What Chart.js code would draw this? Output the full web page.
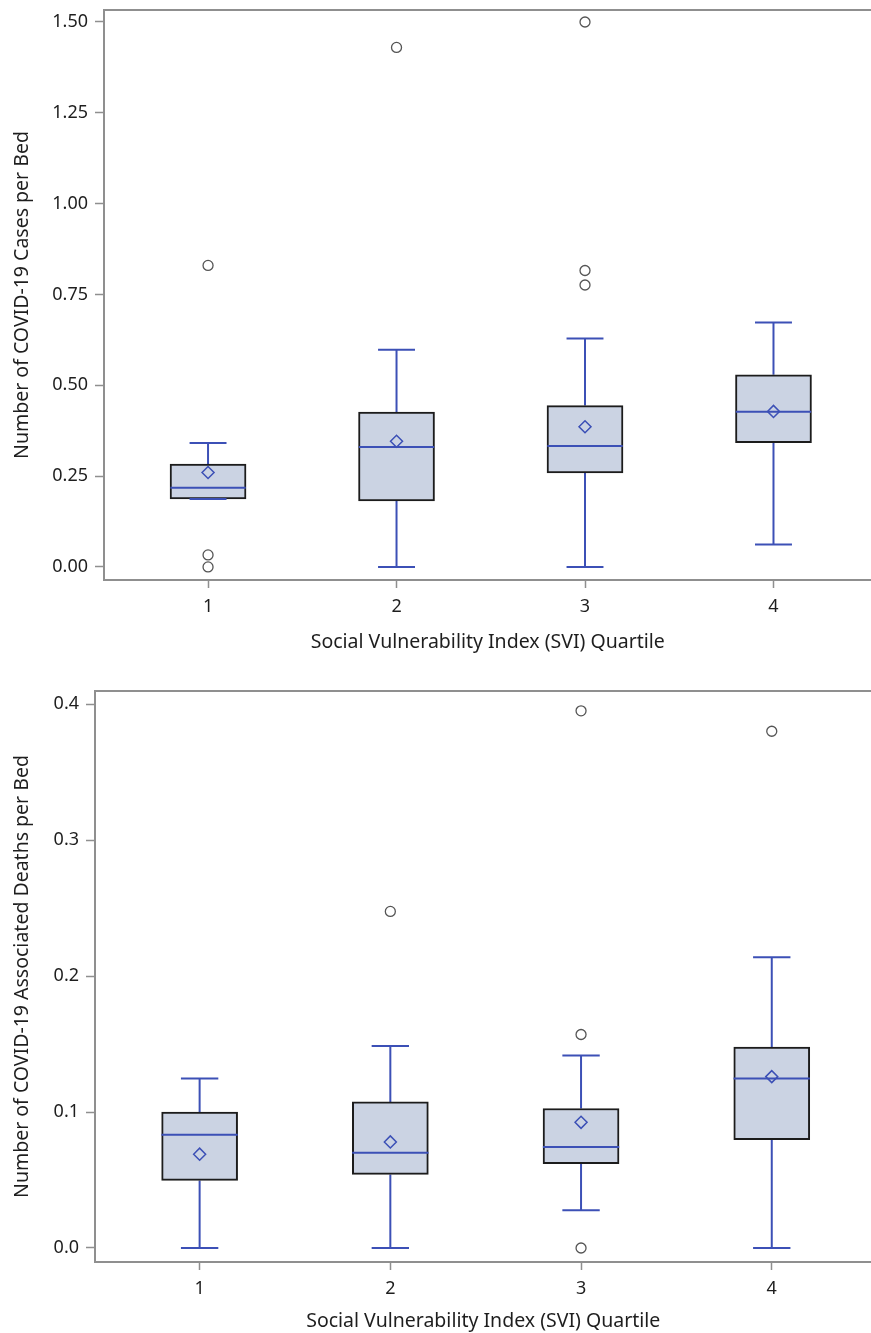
<!DOCTYPE html>
<html>
<head>
<meta charset="utf-8">
<script src="https://cdn.jsdelivr.net/npm/chart.js@4.4.1/dist/chart.umd.min.js"></script>
<style>
  html, body { margin: 0; padding: 0; background: #ffffff; }
  #wrap { position: relative; width: 871px; height: 1333px; overflow: hidden; }
  canvas { position: absolute; left: 0; display: block; }
  #c1 { top: 0; }
  #c2 { top: 665px; }
</style>
</head>
<body>
<div id="wrap">
  <canvas id="c1" width="879" height="665"></canvas>
  <canvas id="c2" width="879" height="668"></canvas>
</div>
<script>
// ---------- data ----------
const categories = [1, 2, 3, 4];
const categoryLabels = ['1', '2', '3', '4'];
const xTitle = 'Social Vulnerability Index (SVI) Quartile';

// Panel A: COVID-19 cases per bed
const casesTitle = 'Number of COVID-19 Cases per Bed';
const casesQ1 = [0.187, 0.182, 0.259, 0.342];
const casesMedian = [0.218, 0.330, 0.333, 0.427];
const casesQ3 = [0.283, 0.426, 0.444, 0.529];
const casesMean = [0.260, 0.346, 0.386, 0.428];
const casesWhiskerLow = [0.187, 0.000, 0.000, 0.062];
const casesWhiskerHigh = [0.341, 0.598, 0.629, 0.673];
const casesOutliers = [[0.830, 0.033, 0.000], [1.430], [1.500, 0.816, 0.776], []];
const casesTickValues = [0, 0.25, 0.5, 0.75, 1.0, 1.25, 1.5];
const casesTickLabels = ['0.00', '0.25', '0.50', '0.75', '1.00', '1.25', '1.50'];

// Panel B: COVID-19 associated deaths per bed
const deathsTitle = 'Number of COVID-19 Associated Deaths per Bed';
const deathsQ1 = [0.0497, 0.0541, 0.0620, 0.0796];
const deathsMedian = [0.0833, 0.0700, 0.0743, 0.1247];
const deathsQ3 = [0.1000, 0.1074, 0.1026, 0.1477];
const deathsMean = [0.0690, 0.0780, 0.0924, 0.1260];
const deathsWhiskerLow = [0.000, 0.000, 0.0277, 0.000];
const deathsWhiskerHigh = [0.1247, 0.1485, 0.1415, 0.2138];
const deathsOutliers = [[], [0.2475], [0.395, 0.157, 0.000], [0.380]];
const deathsTickValues = [0.0, 0.1, 0.2, 0.3, 0.4];
const deathsTickLabels = ['0.0', '0.1', '0.2', '0.3', '0.4'];

// ---------- styling ----------
const FONT = "'Noto Sans', 'Open Sans', sans-serif";
const BLUE = '#3c50b6';
const BOX_FILL = '#cbd3e3';
const BOX_EDGE = '#1c1c1c';
const AXIS_GREY = '#8f8f8f';
const TEXT = '#1e1e1e';
const BOX_HALF = 0.2;    // half box width, in category units
const CAP_HALF = 0.098;  // half whisker-cap width, in category units

Chart.defaults.font.family = FONT;
Chart.defaults.color = TEXT;

const frameTop = {
  id: 'frameTop',
  afterDraw(chart) {
    const a = chart.chartArea, ctx = chart.ctx;
    ctx.save();
    ctx.strokeStyle = AXIS_GREY;
    ctx.lineWidth = 2;
    ctx.beginPath();
    ctx.moveTo(a.left - 1, a.top);
    ctx.lineTo(a.right + 2, a.top);
    ctx.stroke();
    ctx.restore();
  }
};

function buildChart(canvasId, p) {
  const boxData = categories.map((c, i) => ({ x: c, y: [p.q1[i], p.q3[i]] }));
  const meanData = categories.map((c, i) => ({ x: c, y: p.mean[i] }));
  const medData = [];
  const capData = [];
  const whiskData = [];
  categories.forEach((c, i) => {
    medData.push({ x: c - BOX_HALF, y: p.med[i] }, { x: c + BOX_HALF, y: p.med[i] }, { x: c, y: null });
    [p.lo[i], p.hi[i]].forEach(v => {
      capData.push({ x: c - CAP_HALF, y: v }, { x: c + CAP_HALF, y: v }, { x: c, y: null });
    });
    whiskData.push({ x: c, y: p.lo[i] }, { x: c, y: p.q1[i] }, { x: c, y: null });
    whiskData.push({ x: c, y: p.q3[i] }, { x: c, y: p.hi[i] }, { x: c, y: null });
  });
  const outData = [];
  categories.forEach((c, i) => p.out[i].forEach(v => outData.push({ x: c, y: v })));

  const seg = { pointRadius: 0, borderColor: BLUE, borderWidth: 2, spanGaps: false, fill: false, tension: 0, borderCapStyle: 'butt' };

  return new Chart(document.getElementById(canvasId), {
    data: {
      datasets: [
        { type: 'scatter', data: meanData, order: 0, pointStyle: 'rectRot', pointRadius: 6,
          borderColor: BLUE, backgroundColor: 'rgba(0,0,0,0)', borderWidth: 1.5 },
        { type: 'scatter', data: outData, order: 1, pointStyle: 'circle', pointRadius: 5,
          borderColor: '#555555', backgroundColor: 'rgba(255,255,255,0)', borderWidth: 1.3 },
        Object.assign({ type: 'line', data: medData, order: 2 }, seg),
        Object.assign({ type: 'line', data: capData, order: 3 }, seg),
        { type: 'bar', data: boxData, order: 4, barThickness: 76, backgroundColor: BOX_FILL,
          borderColor: BOX_EDGE, borderWidth: 2, borderSkipped: false },
        Object.assign({ type: 'line', data: whiskData, order: 5 }, seg)
      ]
    },
    options: {
      responsive: false,
      animation: false,
      events: [],
      layout: { padding: { top: p.padTop, left: 0, right: 0, bottom: 0 } },
      plugins: { legend: { display: false }, tooltip: { enabled: false } },
      scales: {
        x: {
          type: 'linear',
          position: 'bottom',
          offset: false,
          min: p.xMin, max: p.xMax,
          afterBuildTicks: s => { s.ticks = categories.map(v => ({ value: v })); },
          afterFit: s => { s.height = p.xAxisH; s.paddingLeft = 0; s.paddingRight = 0; },
          ticks: {
            callback: (v) => categoryLabels[categories.indexOf(v)],
            font: { size: 18 }, color: TEXT, padding: 8, maxRotation: 0, autoSkip: false
          },
          grid: { offset: false, drawOnChartArea: false, drawTicks: true, tickLength: 8, color: AXIS_GREY, tickWidth: 1.5 },
          border: { display: true, color: AXIS_GREY, width: 2 },
          title: { display: true, text: xTitle, font: { size: 19.5 }, color: TEXT,
                   padding: { top: 0, bottom: p.xTitlePad } }
        },
        y: {
          type: 'linear',
          min: p.yMin, max: p.yMax,
          afterBuildTicks: s => { s.ticks = p.tickValues.map(v => ({ value: v })); },
          afterFit: s => { s.width = p.yAxisW; s.paddingTop = 0; s.paddingBottom = 0; },
          ticks: {
            callback: (v) => p.tickLabels[p.tickValues.indexOf(v)],
            font: { size: 18 }, color: TEXT, padding: 7, autoSkip: false
          },
          grid: { drawOnChartArea: false, drawTicks: true, tickLength: 9, color: AXIS_GREY, tickWidth: 1.5 },
          border: { display: true, color: AXIS_GREY, width: 2 },
          title: { display: true, text: p.title, font: { size: 19.5 }, color: TEXT,
                   padding: { top: 11, bottom: 0 } }
        }
      }
    },
    plugins: [frameTop]
  });
}

buildChart('c1', {
  q1: casesQ1, med: casesMedian, q3: casesQ3, mean: casesMean,
  lo: casesWhiskerLow, hi: casesWhiskerHigh, out: casesOutliers,
  tickValues: casesTickValues, tickLabels: casesTickLabels, title: casesTitle,
  yMin: -0.036, yMax: 1.533, xMin: 0.448, xMax: 4.52,
  padTop: 10, yAxisW: 104, xAxisH: 85, xTitlePad: 11
});

buildChart('c2', {
  q1: deathsQ1, med: deathsMedian, q3: deathsQ3, mean: deathsMean,
  lo: deathsWhiskerLow, hi: deathsWhiskerHigh, out: deathsOutliers,
  tickValues: deathsTickValues, tickLabels: deathsTickLabels, title: deathsTitle,
  yMin: -0.0103, yMax: 0.4096, xMin: 0.4514, xMax: 4.523,
  padTop: 26, yAxisW: 95, xAxisH: 71, xTitlePad: 0
});
</script>
</body>
</html>
